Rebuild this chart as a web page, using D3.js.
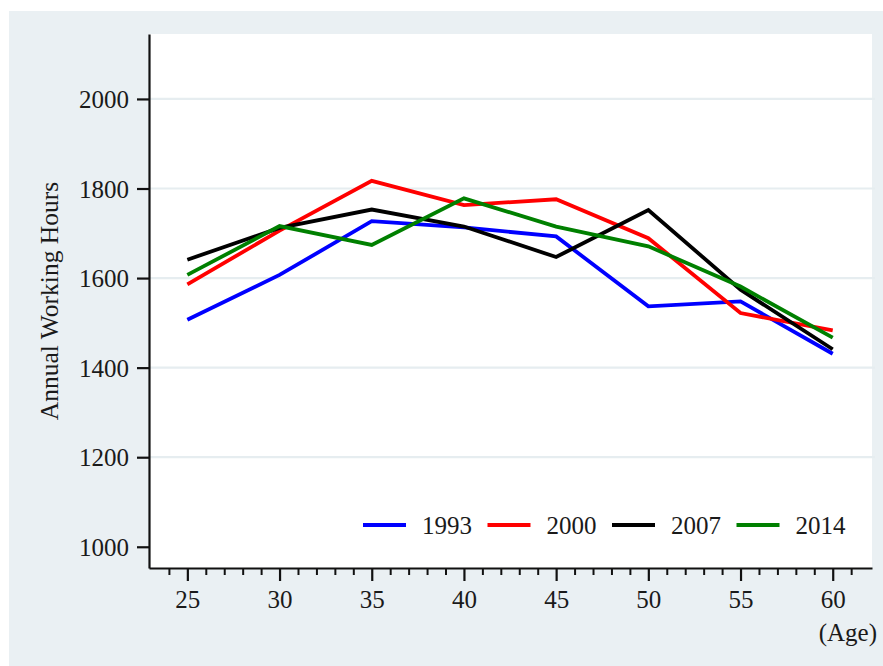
<!DOCTYPE html>
<html><head><meta charset="utf-8">
<script src="https://cdn.jsdelivr.net/npm/d3@7"></script>
<style>html,body{margin:0;padding:0;background:#fff;}svg{display:block;}
svg text{font-family:"Liberation Serif","Times New Roman",Times,serif;}</style>
</head><body>
<script>
const ages = [25, 30, 35, 40, 45, 50, 55, 60];
const s1993 = [1507, 1607, 1727, 1713, 1693, 1537, 1548, 1431];
const s2000 = [1586, 1706, 1817, 1763, 1776, 1689, 1522, 1483];
const s2007 = [1641, 1712, 1753, 1715, 1647, 1752, 1574, 1441];
const s2014 = [1607, 1716, 1674, 1778, 1715, 1671, 1581, 1467];
const seriesNames = ["1993", "2000", "2007", "2014"];
const yTicks = [1000, 1200, 1400, 1600, 1800, 2000];
const xTicks = [25, 30, 35, 40, 45, 50, 55, 60];

const W = 883, H = 666;
const colors = ["#0000ff", "#ff0000", "#000000", "#008000"];
const seriesVals = [s1993, s2000, s2007, s2014];

const svg = d3.select("body").append("svg").attr("width", W).attr("height", H);
svg.append("rect").attr("x", 9).attr("y", 11).attr("width", W - 9).attr("height", H - 11).attr("fill", "#eaf0f3");

const L = 149, R = 872, T = 34, B = 568;
svg.append("rect").attr("x", L).attr("y", T).attr("width", R - L).attr("height", B - T).attr("fill", "#ffffff");

const x = d3.scaleLinear().domain([22.92, 62.13]).range([L, R]);
const y = d3.scaleLinear().domain([952.6, 2145]).range([B, T]);

// gridlines
svg.append("g").selectAll("line").data(yTicks.filter(d => d > 1000)).join("line")
  .attr("x1", L).attr("x2", R + 3).attr("y1", d => y(d)).attr("y2", d => y(d))
  .attr("stroke", "#e6edf0").attr("stroke-width", 2.2);

const font = '"Liberation Serif", "Times New Roman", Times, serif';
const tc = "#1a1a1a";

// y axis
const yAxis = svg.append("g").attr("transform", `translate(${L},0)`)
  .call(d3.axisLeft(y).tickValues(yTicks).tickFormat(d3.format("d")).tickSize(12).tickPadding(8).tickSizeOuter(0));
yAxis.attr("font-family", null).attr("font-size", null);
yAxis.select(".domain").attr("stroke", "#111").attr("stroke-width", 2.2);
yAxis.selectAll(".tick line").attr("stroke", "#111").attr("stroke-width", 2.2);
yAxis.selectAll(".tick text").style("font-family", font).style("font-size", "25px").attr("fill", tc).attr("dy", "0.34em");

// x axis minor ticks
const minor = d3.range(24, 62).filter(d => d % 5 !== 0);
const xMinor = svg.append("g").attr("transform", `translate(0,${B})`)
  .call(d3.axisBottom(x).tickValues(minor).tickSize(7).tickFormat("").tickSizeOuter(0));
xMinor.select(".domain").remove();
xMinor.selectAll(".tick line").attr("stroke", "#111").attr("stroke-width", 2);

const xAxis = svg.append("g").attr("transform", `translate(0,${B})`)
  .call(d3.axisBottom(x).tickValues(xTicks).tickFormat(d3.format("d")).tickSize(13).tickPadding(9).tickSizeOuter(0));
xAxis.attr("font-family", null).attr("font-size", null);
xAxis.select(".domain").attr("stroke", "#111").attr("stroke-width", 2.2);
xAxis.selectAll(".tick line").attr("stroke", "#111").attr("stroke-width", 2.2);
xAxis.selectAll(".tick text").style("font-family", font).style("font-size", "25px").attr("fill", tc);

// axis titles
svg.append("text").attr("transform", `translate(58,${301}) rotate(-90)`)
  .attr("text-anchor", "middle").style("font-family", font).style("font-size", "25.5px").attr("fill", tc)
  .text("Annual Working Hours");
svg.append("text").attr("x", 877).attr("y", 641).attr("text-anchor", "end")
  .style("font-family", font).style("font-size", "25px").attr("fill", tc).text("(Age)");

// lines
const line = d3.line().x((d, i) => x(ages[i])).y(d => y(d));
svg.append("g").selectAll("path").data(seriesVals).join("path")
  .attr("d", d => line(d)).attr("fill", "none")
  .attr("stroke", (d, i) => colors[i]).attr("stroke-width", 3.8).attr("stroke-linejoin", "miter");

// legend
const lg = svg.append("g");
seriesNames.forEach((n, i) => {
  const x0 = 363 + i * 124.5;
  lg.append("line").attr("x1", x0).attr("x2", x0 + 43).attr("y1", 525).attr("y2", 525)
    .attr("stroke", colors[i]).attr("stroke-width", 4);
  lg.append("text").attr("x", x0 + 59).attr("y", 534).style("font-family", font)
    .style("font-size", "25px").attr("fill", tc).text(n);
});
</script>
</body></html>
